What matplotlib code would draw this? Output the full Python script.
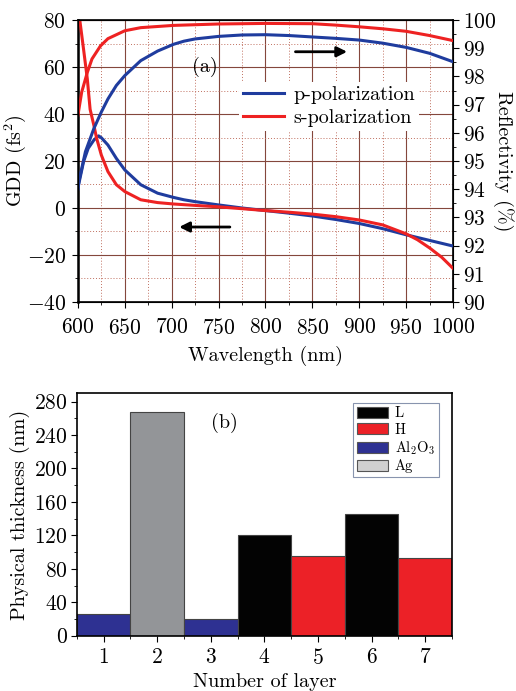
import matplotlib
matplotlib.use("Agg")
import matplotlib.pyplot as plt
from matplotlib.ticker import MultipleLocator
from matplotlib.patches import Patch

plt.rcParams['font.family'] = ['cmr10', 'DejaVu Serif']
plt.rcParams['mathtext.fontset'] = 'cm'
plt.rcParams['axes.formatter.use_mathtext'] = True
plt.rcParams['axes.unicode_minus'] = True

# ---------------- data (a) ----------------
wl_gdd_s = [602, 606, 610, 613, 617, 620, 625, 632, 641, 650, 667, 685, 702, 725, 750, 775,
            800, 825, 850, 875, 900, 925, 950, 962, 975, 988, 1000]
gdd_s = [80, 67.6, 55, 42, 35.2, 29.6, 22.5, 15.5, 9.9, 7.0, 3.5, 2.3, 1.7, 1.1, 0.5, -0.3,
         -1.1, -1.8, -2.6, -3.7, -5.1, -7.2, -11.0, -13.5, -17.0, -21.0, -25.7]

wl_gdd_p = [600, 606, 611, 617, 622, 625, 632, 641, 650, 667, 685, 702, 713, 725, 750, 775,
            800, 825, 850, 875, 900, 925, 950, 975, 1000]
gdd_p = [8.5, 19.7, 25.4, 28.9, 30.7, 29.9, 26.8, 21.1, 16.2, 9.9, 6.3, 4.5, 3.5, 2.7, 1.3, 0.0,
         -1.1, -2.2, -3.4, -4.9, -6.6, -8.8, -11.4, -13.8, -16.2]

wl_r = [600, 604, 610, 615, 624, 632, 650, 667, 702, 750, 800, 850, 875, 900,
        925, 950, 975, 1000]
refl_s = [96.62, 97.44, 98.14, 98.62, 99.08, 99.34, 99.62, 99.73, 99.81, 99.86, 99.88,
          99.87, 99.82, 99.76, 99.69, 99.6, 99.45, 99.27]

wl_rp = [600, 601, 608, 617, 625, 632, 641, 650, 667, 685, 702, 713, 725, 750, 775, 800,
         825, 850, 875, 900, 925, 950, 975, 1000]
refl_p = [94.0, 94.27, 95.33, 96.15, 96.74, 97.2, 97.68, 98.03, 98.56, 98.9, 99.14, 99.25,
          99.33, 99.42, 99.47, 99.48, 99.45, 99.4, 99.35, 99.29, 99.18, 99.03, 98.82, 98.52]

# ---------------- data (b) ----------------
layers = [1, 2, 3, 4, 5, 6, 7]
thickness = [26, 267, 20, 121, 95, 145, 93]
materials = ['Al2O3', 'Ag', 'Al2O3', 'L', 'H', 'L', 'H']
mat_colors = {'L': '#030303', 'H': '#ec2127', 'Al2O3': '#2e3192', 'Ag': '#939598'}
legend_colors = {'L': '#030303', 'H': '#ec2127', 'Al2O3': '#2e3192', 'Ag': '#d0d0d0'}
legend_labels = {'L': 'L', 'H': 'H', 'Al2O3': r'Al$_2$O$_3$', 'Ag': 'Ag'}

RED = '#ee2222'
BLUE = '#1f3c9e'
GRID = '#84473c'
FS_TICK = 15.5
FS_LAB = 14.5

fig = plt.figure(figsize=(5.16, 6.91), dpi=100)

# ---------------- panel (a) ----------------
ax = fig.add_axes([0.151, 0.563, 0.727, 0.408])
ax2 = ax.twinx()
ax.set_xlim(600, 1000)
ax.set_ylim(-40, 80)
ax2.set_ylim(90, 100)

ax.xaxis.set_major_locator(MultipleLocator(50))
ax.xaxis.set_minor_locator(MultipleLocator(25))
ax.yaxis.set_major_locator(MultipleLocator(20))
ax.yaxis.set_minor_locator(MultipleLocator(10))
ax2.yaxis.set_major_locator(MultipleLocator(1))
ax2.yaxis.set_minor_locator(MultipleLocator(0.5))

ax.grid(True, which='major', color=GRID, lw=0.8)
ax.grid(True, which='minor', color='#c07060', lw=0.7, ls=(0, (1, 2)))
ax.set_axisbelow(True)

lp, = ax.plot(wl_gdd_p, gdd_p, color=BLUE, lw=2.2, zorder=3)
ls_, = ax.plot(wl_gdd_s, gdd_s, color=RED, lw=2.2, zorder=3)
ax2.plot(wl_rp, refl_p, color=BLUE, lw=2.2)
ax2.plot(wl_r, refl_s, color=RED, lw=2.2)

ax.set_xlabel('Wavelength (nm)', fontsize=FS_LAB, labelpad=6)
ax.set_ylabel(r'GDD (fs$^2$)', fontsize=FS_LAB, labelpad=-1)
ax2.set_ylabel('Reflectivity (%)', fontsize=FS_LAB, rotation=270, labelpad=12)

for a in (ax, ax2):
    a.tick_params(which='both', direction='out', labelsize=FS_TICK)
    a.tick_params(which='major', length=4.5)
    a.tick_params(which='minor', length=2.5)
ax.tick_params(axis='x', which='major', pad=7)
ax.tick_params(axis='y', which='major', pad=4)
ax2.tick_params(axis='y', which='major', pad=3)
for s in ax.spines.values():
    s.set_linewidth(1.2)
ax.spines['left'].set_linewidth(1.8)

leg = ax2.legend([lp, ls_], ['p-polarization', 's-polarization'], loc='upper left',
                 bbox_to_anchor=(0.43, 0.78), frameon=True, fontsize=FS_LAB,
                 handlelength=2.0, handletextpad=0.5, borderpad=0.2, labelspacing=0.25,
                 borderaxespad=0)
leg.get_frame().set_edgecolor('none')
leg.get_frame().set_facecolor('white')
leg.get_frame().set_alpha(1)

ax.text(735, 60, '(a)', fontsize=FS_LAB, ha='center', va='center')
ax.annotate('', xy=(890, 66.5), xytext=(829, 66.5),
            arrowprops=dict(arrowstyle='-|>', color='black', lw=2, mutation_scale=15))
ax.annotate('', xy=(705, -8.1), xytext=(765, -8.1),
            arrowprops=dict(arrowstyle='-|>', color='black', lw=2, mutation_scale=15))

# ---------------- panel (b) ----------------
bx = fig.add_axes([0.149, 0.080, 0.727, 0.351])
bx.bar(layers, thickness, width=1.0, color=[mat_colors[m] for m in materials],
       edgecolor='#444444', linewidth=0.8)
bx.set_xlim(0.5, 7.5)
bx.set_ylim(0, 290)
bx.xaxis.set_major_locator(MultipleLocator(1))
bx.xaxis.set_minor_locator(MultipleLocator(0.5))
bx.yaxis.set_major_locator(MultipleLocator(40))
bx.yaxis.set_minor_locator(MultipleLocator(20))
bx.tick_params(which='both', direction='out', labelsize=FS_TICK)
bx.tick_params(which='major', length=4.5)
bx.tick_params(which='minor', length=2.5)
bx.tick_params(axis='x', which='major', pad=4)
bx.tick_params(axis='y', which='major', pad=2)
for s in bx.spines.values():
    s.set_linewidth(1.2)
bx.set_xlabel('Number of layer', fontsize=FS_LAB, labelpad=4)
bx.set_ylabel('Physical thickness (nm)', fontsize=FS_LAB, labelpad=3)
bx.text(3.26, 255, '(b)', fontsize=FS_LAB, ha='center', va='center')

order = ['L', 'H', 'Al2O3', 'Ag']
handles = [Patch(facecolor=legend_colors[k], edgecolor='#555555', lw=0.8) for k in order]
lg = bx.legend(handles, [legend_labels[k] for k in order], loc='upper right',
               bbox_to_anchor=(0.965, 0.96), fontsize=10.5, frameon=True, fancybox=False,
               handlelength=2.1, handleheight=0.8, handletextpad=0.5,
               borderpad=0.25, labelspacing=0.18, borderaxespad=0)
lg.get_frame().set_edgecolor('#6a7a9a')
lg.get_frame().set_linewidth(0.8)

fig.savefig('out.png', dpi=100)
